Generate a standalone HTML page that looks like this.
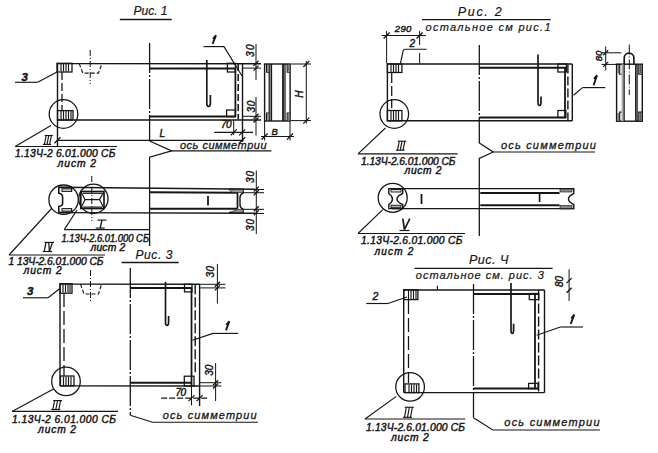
<!DOCTYPE html>
<html><head><meta charset="utf-8"><style>
html,body{margin:0;padding:0;background:#fff;}
svg{display:block;}
text{font-family:"Liberation Sans",sans-serif;fill:#161616;stroke:#161616;stroke-width:0.45;}
</style></head><body>
<svg width="658" height="453" viewBox="0 0 658 453">
<rect width="658" height="453" fill="#fff"/>
<text x="133.5" y="15.2" font-size="12" text-anchor="start" font-weight="normal" font-style="italic" style="stroke-width:0.2" textLength="34" lengthAdjust="spacing">Рис. 1</text>
<line x1="119.8" y1="19.5" x2="171.7" y2="19.5" stroke="#161616" stroke-width="1.54"/>
<line x1="57" y1="63.6" x2="261" y2="63.8" stroke="#161616" stroke-width="1.41"/>
<line x1="57" y1="120.0" x2="261" y2="120.0" stroke="#161616" stroke-width="1.41"/>
<line x1="57.5" y1="62.8" x2="57.5" y2="146.5" stroke="#161616" stroke-width="1.41"/>
<line x1="149.6" y1="43" x2="149.6" y2="141" stroke="#161616" stroke-width="1.28" stroke-dasharray="30,2,2,2"/>
<path d="M149.6 141 L171.6 150.9 L149.6 157.2 L149.6 246" stroke="#161616" stroke-width="1.28" fill="none"/>
<line x1="149.6" y1="68.4" x2="235.8" y2="68.4" stroke="#161616" stroke-width="2.02"/>
<line x1="149.6" y1="116.6" x2="235.8" y2="116.6" stroke="#161616" stroke-width="2.02"/>
<line x1="243" y1="68.1" x2="261" y2="68.1" stroke="#161616" stroke-width="1.02"/>
<line x1="243" y1="116.3" x2="261" y2="116.3" stroke="#161616" stroke-width="1.02"/>
<line x1="235.4" y1="68.4" x2="235.4" y2="116.6" stroke="#161616" stroke-width="1.79"/>
<line x1="238.2" y1="64" x2="238.2" y2="119.5" stroke="#161616" stroke-width="1.54" stroke-dasharray="7,3"/>
<line x1="242.5" y1="63.3" x2="242.5" y2="142" stroke="#161616" stroke-width="1.41"/>
<rect x="227.4" y="63.3" width="8" height="8.7" stroke="#161616" stroke-width="1.28" fill="none"/>
<rect x="226.6" y="110.0" width="8.8" height="6.6" stroke="#161616" stroke-width="1.28" fill="none"/>
<path d="M206.8 60 L206.8 103 Q206.8 106.5 208.6 106.5 Q210.4 106.5 210.4 103 L210.4 95" stroke="#161616" stroke-width="1.68" fill="none"/>
<path d="M212.6 43.8 L216 35.3 L213 38.9" stroke="#161616" stroke-width="1.9" fill="none"/>
<line x1="203.5" y1="46.6" x2="224" y2="46.6" stroke="#161616" stroke-width="1.15"/>
<line x1="224" y1="46.6" x2="242" y2="76" stroke="#161616" stroke-width="1.15"/>
<rect x="57" y="63.3" width="15" height="8.7" stroke="#161616" stroke-width="1.28" fill="none"/>
<line x1="61" y1="64" x2="61" y2="71.5" stroke="#161616" stroke-width="1.15"/>
<line x1="63.5" y1="64" x2="63.5" y2="71.5" stroke="#161616" stroke-width="1.15"/>
<line x1="66" y1="64" x2="66" y2="71.5" stroke="#161616" stroke-width="1.15"/>
<line x1="68.5" y1="64" x2="68.5" y2="71.5" stroke="#161616" stroke-width="1.15"/>
<rect x="57.5" y="110.6" width="15.5" height="9.4" stroke="#161616" stroke-width="1.28" fill="none"/>
<line x1="61" y1="111" x2="61" y2="119.5" stroke="#161616" stroke-width="1.15"/>
<line x1="63.5" y1="111" x2="63.5" y2="119.5" stroke="#161616" stroke-width="1.15"/>
<line x1="66" y1="111" x2="66" y2="119.5" stroke="#161616" stroke-width="1.15"/>
<line x1="68.5" y1="111" x2="68.5" y2="119.5" stroke="#161616" stroke-width="1.15"/>
<line x1="71" y1="111" x2="71" y2="119.5" stroke="#161616" stroke-width="1.15"/>
<line x1="62" y1="72" x2="62" y2="110" stroke="#161616" stroke-width="1.28" stroke-dasharray="8,3"/>
<path d="M79.2 63.6 L82.9 73.1 L98.4 73.1 L102 63.6" stroke="#161616" stroke-width="1.15" fill="none" stroke-dasharray="4,2"/>
<line x1="90.2" y1="50" x2="90.2" y2="84" stroke="#161616" stroke-width="1.02" stroke-dasharray="6,2,1,2"/>
<text x="21.5" y="80.8" font-size="11.5" text-anchor="start" font-weight="bold" font-style="italic">3</text>
<line x1="15" y1="82.3" x2="37.7" y2="82.3" stroke="#161616" stroke-width="1.15"/>
<line x1="37.7" y1="82.3" x2="57" y2="72" stroke="#161616" stroke-width="1.15"/>
<circle cx="63.5" cy="114" r="14.3" stroke="#161616" stroke-width="1.28" fill="none"/>
<line x1="51" y1="125.4" x2="15.2" y2="146.5" stroke="#161616" stroke-width="1.15"/>
<line x1="15.2" y1="146.5" x2="117" y2="146.5" stroke="#161616" stroke-width="1.15"/>
<line x1="44.699999999999996" y1="135.5" x2="52.89999999999999" y2="135.5" stroke="#161616" stroke-width="1.15"/>
<line x1="42.9" y1="144.4" x2="51.099999999999994" y2="144.4" stroke="#161616" stroke-width="1.15"/>
<line x1="44.4" y1="144.4" x2="46.199999999999996" y2="135.5" stroke="#161616" stroke-width="1.15"/>
<line x1="47.0" y1="144.4" x2="48.8" y2="135.5" stroke="#161616" stroke-width="1.15"/>
<line x1="49.599999999999994" y1="144.4" x2="51.39999999999999" y2="135.5" stroke="#161616" stroke-width="1.15"/>
<text x="15" y="157.4" font-size="10.3" text-anchor="start" font-weight="normal" font-style="italic" textLength="100.5" lengthAdjust="spacing">1.13Ч-2 6.01.000 СБ</text>
<text x="57.5" y="167.3" font-size="10.3" text-anchor="start" font-weight="normal" font-style="italic" textLength="38.5" lengthAdjust="spacing">лист 2</text>
<line x1="57" y1="140.3" x2="243.4" y2="140.3" stroke="#161616" stroke-width="1.15"/>
<line x1="54.5" y1="143.3" x2="60.5" y2="137.3" stroke="#161616" stroke-width="1.28"/>
<line x1="239.2" y1="143.3" x2="245.2" y2="137.3" stroke="#161616" stroke-width="1.28"/>
<text x="159.5" y="136.8" font-size="10" text-anchor="start" font-weight="normal" font-style="italic">L</text>
<line x1="214.2" y1="132.4" x2="253" y2="132.4" stroke="#161616" stroke-width="1.15"/>
<line x1="233.7" y1="120" x2="233.7" y2="135" stroke="#161616" stroke-width="1.02"/>
<line x1="230.7" y1="135.4" x2="236.7" y2="129.4" stroke="#161616" stroke-width="1.28"/>
<line x1="239.2" y1="135.4" x2="245.2" y2="129.4" stroke="#161616" stroke-width="1.28"/>
<text x="221" y="128.3" font-size="10" text-anchor="start" font-weight="normal" font-style="italic" textLength="10.5" lengthAdjust="spacing">70</text>
<line x1="256" y1="44" x2="256" y2="80" stroke="#161616" stroke-width="1.02"/>
<line x1="253.5" y1="65.8" x2="258.5" y2="60.8" stroke="#161616" stroke-width="1.28"/>
<line x1="253.5" y1="70.6" x2="258.5" y2="65.6" stroke="#161616" stroke-width="1.28"/>
<text x="254.5" y="56.9" font-size="10" text-anchor="start" font-weight="normal" font-style="italic" textLength="12.5" lengthAdjust="spacing" transform="rotate(-90 254.5 56.9)">30</text>
<line x1="256" y1="97" x2="256" y2="135.5" stroke="#161616" stroke-width="1.02"/>
<line x1="253.5" y1="118.8" x2="258.5" y2="113.8" stroke="#161616" stroke-width="1.28"/>
<line x1="253.5" y1="122.5" x2="258.5" y2="117.5" stroke="#161616" stroke-width="1.28"/>
<text x="254.5" y="112.5" font-size="10" text-anchor="start" font-weight="normal" font-style="italic" textLength="11.8" lengthAdjust="spacing" transform="rotate(-90 254.5 112.5)">30</text>
<rect x="264.6" y="64" width="25.5" height="57" stroke="#161616" stroke-width="1.41" fill="none"/>
<line x1="269.2" y1="64" x2="269.2" y2="121" stroke="#161616" stroke-width="1.28"/>
<line x1="271.3" y1="64" x2="271.3" y2="121" stroke="#161616" stroke-width="1.66"/>
<line x1="283" y1="64" x2="283" y2="121" stroke="#161616" stroke-width="1.79"/>
<line x1="285" y1="64" x2="285" y2="121" stroke="#161616" stroke-width="1.28"/>
<path d="M266.6 64 L266.6 72.2 L269.2 72.2 M266.6 121 L266.6 113 L269.2 113" stroke="#161616" stroke-width="1.15" fill="none"/>
<path d="M287.2 64 L287.2 72.2 L290 72.2 M287.2 121 L287.2 113 L290 113" stroke="#161616" stroke-width="1.15" fill="none"/>
<line x1="268" y1="65" x2="268" y2="71.5" stroke="#777" stroke-width="1.54"/>
<line x1="268" y1="113.5" x2="268" y2="120.5" stroke="#777" stroke-width="1.54"/>
<line x1="288.6" y1="65" x2="288.6" y2="71.5" stroke="#777" stroke-width="1.54"/>
<line x1="288.6" y1="113.5" x2="288.6" y2="120.5" stroke="#777" stroke-width="1.54"/>
<line x1="291" y1="64" x2="311" y2="64" stroke="#161616" stroke-width="1.02"/>
<line x1="291" y1="120.6" x2="311" y2="120.6" stroke="#161616" stroke-width="1.02"/>
<line x1="306.3" y1="61" x2="306.3" y2="123.6" stroke="#161616" stroke-width="1.02"/>
<line x1="303.3" y1="67" x2="309.3" y2="61" stroke="#161616" stroke-width="1.28"/>
<line x1="303.3" y1="123.6" x2="309.3" y2="117.6" stroke="#161616" stroke-width="1.28"/>
<text x="302.7" y="97.7" font-size="10" text-anchor="start" font-weight="normal" font-style="italic" textLength="9" lengthAdjust="spacing" transform="rotate(-90 302.7 97.7)">H</text>
<line x1="264.6" y1="121" x2="264.6" y2="140.5" stroke="#161616" stroke-width="1.02"/>
<line x1="290" y1="121" x2="290" y2="140.5" stroke="#161616" stroke-width="1.02"/>
<line x1="261" y1="136.5" x2="294" y2="136.5" stroke="#161616" stroke-width="1.02"/>
<line x1="261.6" y1="139.5" x2="267.6" y2="133.5" stroke="#161616" stroke-width="1.28"/>
<line x1="287" y1="139.5" x2="293" y2="133.5" stroke="#161616" stroke-width="1.28"/>
<text x="271.5" y="134.5" font-size="9.5" text-anchor="start" font-weight="normal" font-style="italic">B</text>
<text x="180" y="149" font-size="11" text-anchor="start" font-weight="normal" font-style="italic" style="stroke-width:0.3" textLength="86.5" lengthAdjust="spacing">ось симметрии</text>
<line x1="171.6" y1="150.9" x2="271.4" y2="150.9" stroke="#161616" stroke-width="1.15"/>
<line x1="58.8" y1="187.3" x2="264" y2="189.3" stroke="#161616" stroke-width="1.41"/>
<line x1="58.8" y1="212.6" x2="264" y2="213.2" stroke="#161616" stroke-width="1.41"/>
<line x1="149.6" y1="192.2" x2="237.5" y2="192.7" stroke="#161616" stroke-width="2.02"/>
<line x1="149.6" y1="208.7" x2="237.5" y2="208.7" stroke="#161616" stroke-width="2.02"/>
<path d="M228.7 189.1 L243 189.1 L243 193.2 Q240 194.5 240 197.6 L240 204.8 Q240 208 243 209.2 L243 212.8 L229 212.8" stroke="#161616" stroke-width="1.41" fill="none"/>
<path d="M228.7 189.6 L243 189.6 L243 192.5 L233 192.5 Z" stroke="#161616" stroke-width="0.64" fill="#9a9a9a"/>
<path d="M229 212.4 L243 212.4 L243 209.5 L238 209.5 Z" stroke="#161616" stroke-width="0.64" fill="#9a9a9a"/>
<line x1="237.5" y1="192.7" x2="237.5" y2="208.7" stroke="#161616" stroke-width="1.79"/>
<line x1="208" y1="196" x2="208" y2="205.4" stroke="#161616" stroke-width="1.79"/>
<line x1="243" y1="192.7" x2="264" y2="192.7" stroke="#161616" stroke-width="1.02"/>
<line x1="243" y1="209.3" x2="264" y2="209.3" stroke="#161616" stroke-width="1.02"/>
<line x1="256.3" y1="170.6" x2="256.3" y2="234" stroke="#161616" stroke-width="1.02"/>
<line x1="253.8" y1="191.6" x2="258.8" y2="186.6" stroke="#161616" stroke-width="1.28"/>
<line x1="253.8" y1="195.2" x2="258.8" y2="190.2" stroke="#161616" stroke-width="1.28"/>
<line x1="253.8" y1="211.2" x2="258.8" y2="206.2" stroke="#161616" stroke-width="1.28"/>
<line x1="253.8" y1="215.3" x2="258.8" y2="210.3" stroke="#161616" stroke-width="1.28"/>
<text x="254" y="183" font-size="10" text-anchor="start" font-weight="normal" font-style="italic" textLength="12" lengthAdjust="spacing" transform="rotate(-90 254 183)">30</text>
<text x="254" y="231" font-size="10" text-anchor="start" font-weight="normal" font-style="italic" textLength="12" lengthAdjust="spacing" transform="rotate(-90 254 231)">30</text>
<circle cx="63.6" cy="199.7" r="14.7" stroke="#161616" stroke-width="1.28" fill="none"/>
<circle cx="93.4" cy="198.8" r="14.6" stroke="#161616" stroke-width="1.28" fill="none"/>
<path d="M71.6 187.4 L58.8 187.4 L58.8 193.3 Q62.6 194 62.6 197 L62.6 203.5 Q62.6 206 58.8 206.6 L58.8 212.4 L71.6 212.4" stroke="#161616" stroke-width="1.54" fill="none"/>
<rect x="62" y="188.8" width="9.6" height="2.6" stroke="#161616" stroke-width="1.02" fill="#ddd"/>
<rect x="62" y="208.6" width="9.6" height="2.6" stroke="#161616" stroke-width="1.02" fill="#ddd"/>
<line x1="71.6" y1="187.4" x2="71.6" y2="191.4" stroke="#161616" stroke-width="1.15"/>
<line x1="71.6" y1="208.4" x2="71.6" y2="212.4" stroke="#161616" stroke-width="1.15"/>
<rect x="80.8" y="191.5" width="23.2" height="17" stroke="#161616" stroke-width="1.66" fill="none"/>
<line x1="83" y1="193.3" x2="102" y2="193.3" stroke="#161616" stroke-width="1.15"/>
<line x1="83" y1="207.1" x2="102" y2="207.1" stroke="#161616" stroke-width="1.15"/>
<line x1="85" y1="199.6" x2="99.5" y2="199.6" stroke="#161616" stroke-width="1.28"/>
<path d="M80.8 191.5 L85 199.6 L80.8 208.5 M104 191.5 L99.5 199.6 L104 208.5" stroke="#161616" stroke-width="1.15" fill="none"/>
<line x1="91.8" y1="176" x2="91.8" y2="221" stroke="#161616" stroke-width="1.02" stroke-dasharray="6,2,1,2"/>
<line x1="77" y1="210" x2="64.3" y2="229.6" stroke="#161616" stroke-width="1.15"/>
<line x1="64.3" y1="229.6" x2="150" y2="229.6" stroke="#161616" stroke-width="1.15"/>
<line x1="97.5" y1="220.1" x2="106.5" y2="220.1" stroke="#161616" stroke-width="1.15"/>
<line x1="95.7" y1="228.1" x2="104.7" y2="228.1" stroke="#161616" stroke-width="1.15"/>
<line x1="100.2" y1="228.1" x2="102.0" y2="220.1" stroke="#161616" stroke-width="1.41"/>
<text x="61.5" y="241.5" font-size="10.3" text-anchor="start" font-weight="normal" font-style="italic" textLength="87.5" lengthAdjust="spacingAndGlyphs">1.13Ч-2.6.01.000 СБ</text>
<text x="90.5" y="250.6" font-size="10.3" text-anchor="start" font-weight="normal" font-style="italic" textLength="34.7" lengthAdjust="spacing">лист 2</text>
<line x1="52" y1="208" x2="9" y2="255" stroke="#161616" stroke-width="1.15"/>
<line x1="9" y1="255" x2="105" y2="255" stroke="#161616" stroke-width="1.15"/>
<line x1="44.5" y1="242.4" x2="54.0" y2="242.4" stroke="#161616" stroke-width="1.15"/>
<line x1="42.7" y1="251.5" x2="52.2" y2="251.5" stroke="#161616" stroke-width="1.15"/>
<line x1="44.2" y1="251.5" x2="46.0" y2="242.4" stroke="#161616" stroke-width="1.28"/>
<line x1="48.775" y1="242.4" x2="49.35" y2="251.5" stroke="#161616" stroke-width="1.28"/>
<line x1="49.35" y1="251.5" x2="52.5" y2="242.4" stroke="#161616" stroke-width="1.28"/>
<text x="8.5" y="265" font-size="10.3" text-anchor="start" font-weight="normal" font-style="italic" textLength="95" lengthAdjust="spacing">1 13Ч-2.6.01.000 СБ</text>
<text x="23.5" y="274.4" font-size="10.3" text-anchor="start" font-weight="normal" font-style="italic" textLength="38.2" lengthAdjust="spacing">лист 2</text>
<text x="135.5" y="258.5" font-size="12" text-anchor="start" font-weight="normal" font-style="italic" style="stroke-width:0.2" textLength="37" lengthAdjust="spacing">Рис. 3</text>
<line x1="121.6" y1="262.5" x2="178.7" y2="262.5" stroke="#161616" stroke-width="1.41"/>
<line x1="60" y1="284.1" x2="200.2" y2="284.3" stroke="#161616" stroke-width="1.41"/>
<line x1="200.2" y1="284.3" x2="225.4" y2="284.3" stroke="#161616" stroke-width="1.02"/>
<line x1="60" y1="385.9" x2="199.4" y2="386" stroke="#161616" stroke-width="1.41"/>
<line x1="199.4" y1="386" x2="221.3" y2="386" stroke="#161616" stroke-width="1.02"/>
<line x1="60" y1="283.3" x2="60" y2="386" stroke="#161616" stroke-width="1.41"/>
<line x1="130.3" y1="268" x2="130.3" y2="415.2" stroke="#161616" stroke-width="1.28" stroke-dasharray="30,2,2,2"/>
<path d="M130.3 415.2 L152.6 422.2 L257.9 422.2" stroke="#161616" stroke-width="1.15" fill="none"/>
<line x1="130.3" y1="287.9" x2="192" y2="287.9" stroke="#161616" stroke-width="2.02"/>
<line x1="130.3" y1="382.7" x2="192" y2="382.7" stroke="#161616" stroke-width="2.02"/>
<line x1="191.5" y1="287.9" x2="191.5" y2="386" stroke="#161616" stroke-width="1.79"/>
<line x1="195.2" y1="284.3" x2="195.2" y2="374.4" stroke="#161616" stroke-width="1.41" stroke-dasharray="10,3"/>
<line x1="199.6" y1="284.3" x2="199.6" y2="406" stroke="#161616" stroke-width="1.41"/>
<rect x="184.5" y="284.3" width="7.5" height="7.6" stroke="#161616" stroke-width="1.28" fill="none"/>
<rect x="184.3" y="376.2" width="9.7" height="9.8" stroke="#161616" stroke-width="1.28" fill="none"/>
<path d="M165.5 282 L165.5 322 Q165.5 325.5 167 325.5 Q168.6 325.5 168.6 322 L168.6 316" stroke="#161616" stroke-width="1.68" fill="none"/>
<path d="M226 330.4 L229.3 321.3 L226.3 324.90000000000003" stroke="#161616" stroke-width="1.9" fill="none"/>
<line x1="192.6" y1="340.3" x2="213" y2="333.4" stroke="#161616" stroke-width="1.15"/>
<line x1="213" y1="333.4" x2="238.3" y2="333.4" stroke="#161616" stroke-width="1.15"/>
<line x1="200.2" y1="287.9" x2="225.4" y2="287.9" stroke="#161616" stroke-width="1.02"/>
<line x1="199.4" y1="382.7" x2="221.3" y2="382.7" stroke="#161616" stroke-width="1.02"/>
<line x1="217.4" y1="264" x2="217.4" y2="303.5" stroke="#161616" stroke-width="1.02"/>
<line x1="214.9" y1="286.8" x2="219.9" y2="281.8" stroke="#161616" stroke-width="1.28"/>
<line x1="214.9" y1="290.4" x2="219.9" y2="285.4" stroke="#161616" stroke-width="1.28"/>
<text x="213.7" y="277.6" font-size="10" text-anchor="start" font-weight="normal" font-style="italic" textLength="11.7" lengthAdjust="spacing" transform="rotate(-90 213.7 277.6)">30</text>
<line x1="215.6" y1="362.9" x2="215.6" y2="401.1" stroke="#161616" stroke-width="1.02"/>
<line x1="213.1" y1="385.2" x2="218.1" y2="380.2" stroke="#161616" stroke-width="1.28"/>
<line x1="213.1" y1="388.5" x2="218.1" y2="383.5" stroke="#161616" stroke-width="1.28"/>
<text x="213.4" y="375.8" font-size="10" text-anchor="start" font-weight="normal" font-style="italic" textLength="11" lengthAdjust="spacing" transform="rotate(-90 213.4 375.8)">30</text>
<line x1="161.2" y1="398.1" x2="208" y2="398.1" stroke="#161616" stroke-width="1.15" stroke-dasharray="6,2"/>
<line x1="191.5" y1="386" x2="191.5" y2="405.4" stroke="#161616" stroke-width="1.02"/>
<line x1="188.5" y1="401.1" x2="194.5" y2="395.1" stroke="#161616" stroke-width="1.28"/>
<line x1="196.6" y1="401.1" x2="202.6" y2="395.1" stroke="#161616" stroke-width="1.28"/>
<text x="175.5" y="395.7" font-size="10" text-anchor="start" font-weight="normal" font-style="italic" textLength="10.5" lengthAdjust="spacing">70</text>
<text x="162.7" y="419" font-size="11" text-anchor="start" font-weight="normal" font-style="italic" style="stroke-width:0.3" textLength="94" lengthAdjust="spacing">ось симметрии</text>
<rect x="60" y="283.7" width="12" height="9.5" stroke="#161616" stroke-width="1.28" fill="none"/>
<line x1="63" y1="284.5" x2="63" y2="292.5" stroke="#161616" stroke-width="1.15"/>
<line x1="65.5" y1="284.5" x2="65.5" y2="292.5" stroke="#161616" stroke-width="1.15"/>
<line x1="68" y1="284.5" x2="68" y2="292.5" stroke="#161616" stroke-width="1.15"/>
<line x1="70" y1="284.5" x2="70" y2="292.5" stroke="#161616" stroke-width="1.15"/>
<rect x="60.5" y="376" width="13.5" height="9.9" stroke="#161616" stroke-width="1.28" fill="none"/>
<line x1="63.5" y1="376.5" x2="63.5" y2="385.5" stroke="#161616" stroke-width="1.15"/>
<line x1="66" y1="376.5" x2="66" y2="385.5" stroke="#161616" stroke-width="1.15"/>
<line x1="68.5" y1="376.5" x2="68.5" y2="385.5" stroke="#161616" stroke-width="1.15"/>
<line x1="71" y1="376.5" x2="71" y2="385.5" stroke="#161616" stroke-width="1.15"/>
<line x1="64" y1="293" x2="64" y2="376" stroke="#161616" stroke-width="1.28" stroke-dasharray="14,4"/>
<path d="M80.5 284.1 L84 294 L98.5 294 L101.5 284.1" stroke="#161616" stroke-width="1.15" fill="none" stroke-dasharray="4,2"/>
<line x1="90.5" y1="270" x2="90.5" y2="303" stroke="#161616" stroke-width="1.02" stroke-dasharray="6,2,1,2"/>
<text x="27" y="294.5" font-size="11.5" text-anchor="start" font-weight="bold" font-style="italic">3</text>
<line x1="23" y1="297.8" x2="48" y2="297.8" stroke="#161616" stroke-width="1.15"/>
<line x1="48" y1="297.8" x2="60" y2="288.5" stroke="#161616" stroke-width="1.15"/>
<circle cx="66" cy="381.4" r="14.3" stroke="#161616" stroke-width="1.28" fill="none"/>
<line x1="53.5" y1="389" x2="12" y2="411.4" stroke="#161616" stroke-width="1.15"/>
<line x1="12" y1="411.4" x2="118" y2="411.4" stroke="#161616" stroke-width="1.15"/>
<line x1="53.099999999999994" y1="400.6" x2="62.099999999999994" y2="400.6" stroke="#161616" stroke-width="1.15"/>
<line x1="51.3" y1="409.5" x2="60.3" y2="409.5" stroke="#161616" stroke-width="1.15"/>
<line x1="52.8" y1="409.5" x2="54.599999999999994" y2="400.6" stroke="#161616" stroke-width="1.15"/>
<line x1="55.8" y1="409.5" x2="57.599999999999994" y2="400.6" stroke="#161616" stroke-width="1.15"/>
<line x1="58.8" y1="409.5" x2="60.599999999999994" y2="400.6" stroke="#161616" stroke-width="1.15"/>
<text x="12" y="422.7" font-size="10.3" text-anchor="start" font-weight="normal" font-style="italic" textLength="104" lengthAdjust="spacing">1.13Ч-2 6.01.000 СБ</text>
<text x="38" y="433.3" font-size="10.3" text-anchor="start" font-weight="normal" font-style="italic" textLength="38" lengthAdjust="spacing">лист 2</text>
<text x="457.7" y="16" font-size="12.5" text-anchor="start" font-weight="normal" font-style="italic" style="stroke-width:0.2" textLength="44" lengthAdjust="spacing">Рис. 2</text>
<line x1="422" y1="19.6" x2="550.8" y2="19.6" stroke="#161616" stroke-width="1.28"/>
<text x="425.5" y="31.3" font-size="11" text-anchor="start" font-weight="normal" font-style="italic" style="stroke-width:0.2" textLength="125" lengthAdjust="spacing">остальное см рис.1</text>
<line x1="381.6" y1="35.5" x2="426" y2="35.5" stroke="#161616" stroke-width="1.15"/>
<line x1="383.6" y1="38.5" x2="389.6" y2="32.5" stroke="#161616" stroke-width="1.28"/>
<line x1="416.6" y1="38.5" x2="422.6" y2="32.5" stroke="#161616" stroke-width="1.28"/>
<text x="394.8" y="32.4" font-size="9.5" text-anchor="start" font-weight="normal" font-style="italic" textLength="16.5" lengthAdjust="spacing">290</text>
<line x1="386.6" y1="31" x2="386.6" y2="63.5" stroke="#161616" stroke-width="1.02"/>
<line x1="419.6" y1="31" x2="419.6" y2="45" stroke="#161616" stroke-width="1.02"/>
<line x1="419.6" y1="53" x2="419.6" y2="63.5" stroke="#161616" stroke-width="1.02"/>
<text x="409.5" y="47" font-size="10" text-anchor="start" font-weight="normal" font-style="italic">2</text>
<path d="M426.6 49.2 L405 49.2 Q403.6 49.2 403.2 50.6 L400.5 63.1" stroke="#161616" stroke-width="1.15" fill="none"/>
<line x1="387" y1="64" x2="572.3" y2="64" stroke="#161616" stroke-width="1.41"/>
<line x1="387" y1="120.8" x2="572.3" y2="120.8" stroke="#161616" stroke-width="1.41"/>
<line x1="387.4" y1="63.8" x2="387.4" y2="121" stroke="#161616" stroke-width="1.41"/>
<line x1="479.3" y1="45" x2="479.3" y2="143" stroke="#161616" stroke-width="1.28" stroke-dasharray="30,2,2,2"/>
<path d="M479.3 143 L493.2 152 L479.3 158.4 L479.3 236" stroke="#161616" stroke-width="1.28" fill="none"/>
<line x1="479.3" y1="67.8" x2="566" y2="67.8" stroke="#161616" stroke-width="2.02"/>
<line x1="479.3" y1="117.5" x2="566" y2="117.5" stroke="#161616" stroke-width="2.02"/>
<line x1="565" y1="67.8" x2="565" y2="117.5" stroke="#161616" stroke-width="1.79"/>
<line x1="567.9" y1="64.5" x2="567.9" y2="120.3" stroke="#161616" stroke-width="1.41" stroke-dasharray="9,3"/>
<line x1="572.3" y1="64" x2="572.3" y2="120.8" stroke="#161616" stroke-width="1.41"/>
<rect x="557.9" y="64" width="8.5" height="8" stroke="#161616" stroke-width="1.28" fill="none"/>
<rect x="557.9" y="110.5" width="8" height="7" stroke="#161616" stroke-width="1.28" fill="none"/>
<path d="M538 54.6 L538 102 Q538 105.5 539.5 105.5 Q541 105.5 541 102 L541 96.4" stroke="#161616" stroke-width="1.68" fill="none"/>
<path d="M593.6 85.2 L597 75.3 L594 78.89999999999999" stroke="#161616" stroke-width="1.9" fill="none"/>
<line x1="573.6" y1="95.2" x2="582.5" y2="87.6" stroke="#161616" stroke-width="1.15"/>
<line x1="582.5" y1="87.6" x2="605.3" y2="87.6" stroke="#161616" stroke-width="1.15"/>
<rect x="387.4" y="64" width="14.5" height="8.5" stroke="#161616" stroke-width="1.28" fill="none"/>
<line x1="391" y1="64.5" x2="391" y2="72" stroke="#161616" stroke-width="1.15"/>
<line x1="393.5" y1="64.5" x2="393.5" y2="72" stroke="#161616" stroke-width="1.15"/>
<line x1="396" y1="64.5" x2="396" y2="72" stroke="#161616" stroke-width="1.15"/>
<line x1="398.5" y1="64.5" x2="398.5" y2="72" stroke="#161616" stroke-width="1.15"/>
<line x1="391.7" y1="73" x2="391.7" y2="108" stroke="#161616" stroke-width="1.28" stroke-dasharray="10,3"/>
<rect x="387.4" y="110.5" width="14.5" height="10.3" stroke="#161616" stroke-width="1.28" fill="none"/>
<line x1="391" y1="111" x2="391" y2="120.3" stroke="#161616" stroke-width="1.15"/>
<line x1="393.5" y1="111" x2="393.5" y2="120.3" stroke="#161616" stroke-width="1.15"/>
<line x1="396" y1="111" x2="396" y2="120.3" stroke="#161616" stroke-width="1.15"/>
<line x1="398.5" y1="111" x2="398.5" y2="120.3" stroke="#161616" stroke-width="1.15"/>
<circle cx="394.3" cy="114" r="14.3" stroke="#161616" stroke-width="1.28" fill="none"/>
<line x1="385.4" y1="128" x2="358" y2="153.9" stroke="#161616" stroke-width="1.15"/>
<line x1="358" y1="153.9" x2="457.7" y2="153.9" stroke="#161616" stroke-width="1.15"/>
<line x1="397.8" y1="141.2" x2="406.3" y2="141.2" stroke="#161616" stroke-width="1.15"/>
<line x1="396" y1="150.2" x2="404.5" y2="150.2" stroke="#161616" stroke-width="1.15"/>
<line x1="397.5" y1="150.2" x2="399.3" y2="141.2" stroke="#161616" stroke-width="1.15"/>
<line x1="400.25" y1="150.2" x2="402.05" y2="141.2" stroke="#161616" stroke-width="1.15"/>
<line x1="403.0" y1="150.2" x2="404.8" y2="141.2" stroke="#161616" stroke-width="1.15"/>
<text x="361" y="164.6" font-size="10.3" text-anchor="start" font-weight="normal" font-style="italic" textLength="94.5" lengthAdjust="spacing">1.13Ч-2.6.01.000 СБ</text>
<text x="404.5" y="173.8" font-size="10.3" text-anchor="start" font-weight="normal" font-style="italic" textLength="37" lengthAdjust="spacing">лист 2</text>
<text x="500.9" y="149" font-size="11" text-anchor="start" font-weight="normal" font-style="italic" style="stroke-width:0.3" textLength="95" lengthAdjust="spacing">ось симметрии</text>
<line x1="493.2" y1="152" x2="595" y2="152" stroke="#161616" stroke-width="1.15"/>
<rect x="616.6" y="64.2" width="25.7" height="57" stroke="#161616" stroke-width="1.41" fill="none"/>
<line x1="622.8" y1="64.2" x2="622.8" y2="121.2" stroke="#aaa" stroke-width="2.46"/>
<line x1="624.2" y1="64.2" x2="624.2" y2="121.2" stroke="#161616" stroke-width="1.15"/>
<line x1="635.7" y1="64.2" x2="635.7" y2="121.2" stroke="#161616" stroke-width="1.28"/>
<line x1="637.1" y1="64.2" x2="637.1" y2="121.2" stroke="#161616" stroke-width="1.28"/>
<path d="M619.7 64.2 L619.7 74.2 L621.5 74.2 M619.7 121.2 L619.7 112.1 L621.5 112.1" stroke="#161616" stroke-width="1.15" fill="none"/>
<path d="M638.8 64.2 L638.8 74.2 L642 74.2 M638.8 121.2 L638.8 112.1 L642 112.1" stroke="#161616" stroke-width="1.15" fill="none"/>
<line x1="618.2" y1="65" x2="618.2" y2="73.5" stroke="#777" stroke-width="1.54"/>
<line x1="618.2" y1="113" x2="618.2" y2="120.5" stroke="#777" stroke-width="1.54"/>
<line x1="640.5" y1="65" x2="640.5" y2="73.5" stroke="#555" stroke-width="2.02"/>
<line x1="640.5" y1="113" x2="640.5" y2="120.5" stroke="#555" stroke-width="2.02"/>
<path d="M624.2 64.2 L624.2 58 A4.85 4.85 0 0 1 633.9 58 L633.9 64.2" stroke="#161616" stroke-width="1.66" fill="none"/>
<line x1="629.3" y1="44.4" x2="629.3" y2="95" stroke="#161616" stroke-width="1.02" stroke-dasharray="10,2,1,2"/>
<line x1="601.5" y1="52.8" x2="621.4" y2="52.8" stroke="#161616" stroke-width="1.02"/>
<line x1="601.5" y1="64.4" x2="621.4" y2="64.4" stroke="#161616" stroke-width="1.02"/>
<line x1="605.7" y1="46.5" x2="605.7" y2="70.6" stroke="#161616" stroke-width="1.02"/>
<line x1="603.2" y1="55.3" x2="608.2" y2="50.3" stroke="#161616" stroke-width="1.28"/>
<line x1="603.2" y1="66.9" x2="608.2" y2="61.900000000000006" stroke="#161616" stroke-width="1.28"/>
<text x="601.8" y="61.3" font-size="9.5" text-anchor="start" font-weight="normal" font-style="italic" textLength="10.5" lengthAdjust="spacing" transform="rotate(-90 601.8 61.3)">80</text>
<line x1="392" y1="188.6" x2="573.8" y2="188.6" stroke="#161616" stroke-width="1.41"/>
<line x1="392" y1="208.6" x2="573.8" y2="208.6" stroke="#161616" stroke-width="1.41"/>
<line x1="480.3" y1="192.9" x2="559.5" y2="192.9" stroke="#161616" stroke-width="2.02"/>
<line x1="480.3" y1="205.2" x2="559.5" y2="205.2" stroke="#161616" stroke-width="2.02"/>
<path d="M559.5 188.6 L573.8 188.6 L573.8 193.5 Q568.5 196 568.5 199 Q568.5 202 573.8 204.5 L573.8 208.6 L559.5 208.6" stroke="#161616" stroke-width="1.41" fill="none"/>
<rect x="560" y="189" width="12" height="3" stroke="#161616" stroke-width="0.64" fill="#8a8a8a"/>
<rect x="560" y="205.5" width="12" height="3" stroke="#161616" stroke-width="0.64" fill="#8a8a8a"/>
<line x1="539.6" y1="194" x2="539.6" y2="202" stroke="#161616" stroke-width="1.68"/>
<line x1="421.5" y1="194" x2="421.5" y2="204" stroke="#161616" stroke-width="1.79"/>
<circle cx="392.7" cy="197.8" r="14.5" stroke="#161616" stroke-width="1.28" fill="none"/>
<path d="M388.8 188.6 L402.7 188.6 L402.7 193.5 Q397 196 397 199 Q397 202 402.7 204.5 L402.7 208.6 L388.8 208.6 L388.8 204.5 Q392.5 202 392.5 199 Q392.5 196 388.8 193.5 Z" stroke="#161616" stroke-width="1.41" fill="none"/>
<rect x="391" y="189.5" width="10" height="2.5" stroke="#161616" stroke-width="0.9" fill="#ddd"/>
<rect x="391" y="205.2" width="10" height="2.5" stroke="#161616" stroke-width="0.9" fill="#aaa"/>
<line x1="382.8" y1="209.7" x2="358" y2="233.5" stroke="#161616" stroke-width="1.15"/>
<line x1="358" y1="233.5" x2="465" y2="233.5" stroke="#161616" stroke-width="1.15"/>
<line x1="399.5" y1="230.5" x2="409.5" y2="230.5" stroke="#161616" stroke-width="1.15"/>
<line x1="402.8" y1="218.6" x2="404.5" y2="229.5" stroke="#161616" stroke-width="1.66"/>
<line x1="404.5" y1="229.5" x2="409.8" y2="218.6" stroke="#161616" stroke-width="1.66"/>
<text x="361" y="243.8" font-size="10.3" text-anchor="start" font-weight="normal" font-style="italic" textLength="101.4" lengthAdjust="spacing">1.13Ч-2.6.01.000 СБ</text>
<text x="374.5" y="254.5" font-size="10" text-anchor="start" font-weight="normal" font-style="italic" textLength="38.7" lengthAdjust="spacing">лист 2</text>
<text x="469" y="264" font-size="12.5" text-anchor="start" font-weight="normal" font-style="italic" style="stroke-width:0.2" textLength="39.5" lengthAdjust="spacing">Рис. Ч</text>
<line x1="414.6" y1="268.3" x2="552.6" y2="268.3" stroke="#161616" stroke-width="1.28"/>
<text x="415.8" y="279.3" font-size="11" text-anchor="start" font-weight="normal" font-style="italic" style="stroke-width:0.2" textLength="128" lengthAdjust="spacing">остальное см. рис. 3</text>
<line x1="403.7" y1="290" x2="544.5" y2="290" stroke="#161616" stroke-width="1.41"/>
<line x1="403.7" y1="392.6" x2="544.5" y2="392.6" stroke="#161616" stroke-width="1.41"/>
<line x1="403.7" y1="289.5" x2="403.7" y2="392.6" stroke="#161616" stroke-width="1.41"/>
<line x1="437.4" y1="285.7" x2="437.4" y2="290" stroke="#161616" stroke-width="1.15"/>
<line x1="473.5" y1="284" x2="473.5" y2="417.7" stroke="#161616" stroke-width="1.28" stroke-dasharray="30,2,2,2"/>
<path d="M473.5 417.7 L492.8 430 L600 430" stroke="#161616" stroke-width="1.15" fill="none"/>
<line x1="473.5" y1="294" x2="538.7" y2="294" stroke="#161616" stroke-width="2.02"/>
<line x1="473.5" y1="388.6" x2="538.7" y2="388.6" stroke="#161616" stroke-width="2.02"/>
<line x1="535" y1="293.5" x2="535" y2="388.6" stroke="#161616" stroke-width="1.79"/>
<line x1="538.6" y1="290.5" x2="538.6" y2="392" stroke="#161616" stroke-width="1.41" stroke-dasharray="10,3"/>
<line x1="544.5" y1="290" x2="544.5" y2="392.6" stroke="#161616" stroke-width="1.41"/>
<rect x="529.3" y="293.5" width="9.4" height="6.1" stroke="#161616" stroke-width="1.28" fill="none"/>
<rect x="528.6" y="383.4" width="9.4" height="5.2" stroke="#161616" stroke-width="1.28" fill="none"/>
<path d="M511 283 L511 330 Q511 333.4 512.3 333.4 Q513.6 333.4 513.6 330 L513.6 323.8" stroke="#161616" stroke-width="1.68" fill="none"/>
<path d="M570.7 323.8 L574.3 314.7 L571.3 318.3" stroke="#161616" stroke-width="1.9" fill="none"/>
<line x1="536.7" y1="335.2" x2="560.3" y2="327" stroke="#161616" stroke-width="1.15"/>
<line x1="560.3" y1="327" x2="583.1" y2="327" stroke="#161616" stroke-width="1.15"/>
<line x1="569.1" y1="269.2" x2="569.1" y2="301" stroke="#161616" stroke-width="1.02"/>
<line x1="566.6" y1="283.1" x2="571.6" y2="278.1" stroke="#161616" stroke-width="1.28"/>
<line x1="566.6" y1="292.8" x2="571.6" y2="287.8" stroke="#161616" stroke-width="1.28"/>
<text x="563" y="287" font-size="10" text-anchor="start" font-weight="normal" font-style="italic" textLength="11" lengthAdjust="spacing" transform="rotate(-90 563 287)">80</text>
<rect x="403.7" y="289.8" width="14.2" height="9.8" stroke="#161616" stroke-width="1.28" fill="none"/>
<line x1="408.5" y1="290.5" x2="408.5" y2="299" stroke="#161616" stroke-width="1.15"/>
<line x1="411" y1="290.5" x2="411" y2="299" stroke="#161616" stroke-width="1.15"/>
<line x1="413.5" y1="290.5" x2="413.5" y2="299" stroke="#161616" stroke-width="1.15"/>
<line x1="416" y1="290.5" x2="416" y2="299" stroke="#161616" stroke-width="1.15"/>
<line x1="408.5" y1="300" x2="408.5" y2="383" stroke="#161616" stroke-width="1.28" stroke-dasharray="14,4"/>
<text x="372.5" y="300" font-size="10.5" text-anchor="start" font-weight="normal" font-style="italic">2</text>
<line x1="366.3" y1="303.5" x2="388" y2="303.5" stroke="#161616" stroke-width="1.15"/>
<line x1="388" y1="303.5" x2="407" y2="297" stroke="#161616" stroke-width="1.15"/>
<rect x="405" y="383.9" width="13.9" height="8.7" stroke="#161616" stroke-width="1.28" fill="none"/>
<line x1="409" y1="384.5" x2="409" y2="392" stroke="#161616" stroke-width="1.15"/>
<line x1="411.5" y1="384.5" x2="411.5" y2="392" stroke="#161616" stroke-width="1.15"/>
<line x1="414" y1="384.5" x2="414" y2="392" stroke="#161616" stroke-width="1.15"/>
<line x1="416.5" y1="384.5" x2="416.5" y2="392" stroke="#161616" stroke-width="1.15"/>
<circle cx="410.1" cy="386.9" r="14.3" stroke="#161616" stroke-width="1.28" fill="none"/>
<line x1="396.3" y1="396.4" x2="365" y2="419" stroke="#161616" stroke-width="1.15"/>
<line x1="365" y1="419" x2="465.3" y2="419" stroke="#161616" stroke-width="1.15"/>
<line x1="404.8" y1="407.3" x2="413.8" y2="407.3" stroke="#161616" stroke-width="1.15"/>
<line x1="403" y1="417.3" x2="412" y2="417.3" stroke="#161616" stroke-width="1.15"/>
<line x1="404.5" y1="417.3" x2="406.3" y2="407.3" stroke="#161616" stroke-width="1.15"/>
<line x1="407.5" y1="417.3" x2="409.3" y2="407.3" stroke="#161616" stroke-width="1.15"/>
<line x1="410.5" y1="417.3" x2="412.3" y2="407.3" stroke="#161616" stroke-width="1.15"/>
<text x="366" y="430.7" font-size="10.3" text-anchor="start" font-weight="normal" font-style="italic" textLength="99" lengthAdjust="spacing">1.13Ч-2.6.01.000 СБ</text>
<text x="391" y="440.8" font-size="10.3" text-anchor="start" font-weight="normal" font-style="italic" textLength="37.7" lengthAdjust="spacing">лист 2</text>
<text x="504.3" y="426" font-size="11" text-anchor="start" font-weight="normal" font-style="italic" style="stroke-width:0.3" textLength="95.2" lengthAdjust="spacing">ось симметрии</text>
</svg></body></html>
